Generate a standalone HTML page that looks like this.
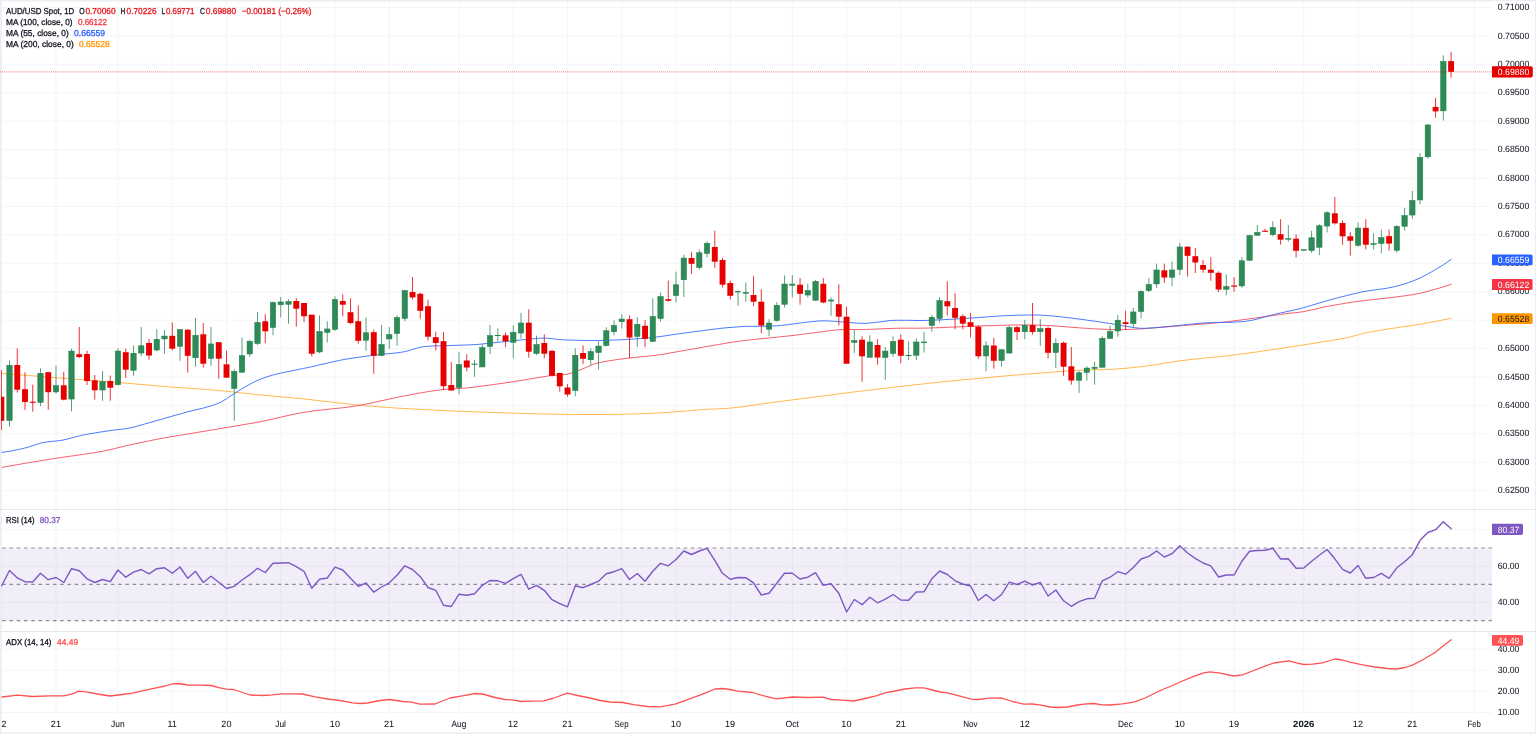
<!DOCTYPE html>
<html lang="en"><head><meta charset="utf-8"><title>AUD/USD Spot, 1D</title>
<style>html,body{margin:0;padding:0;background:#fff;overflow:hidden}svg{display:block;will-change:transform}text{font-family:"Liberation Sans",Arial,Helvetica,sans-serif;fill:#131722}.ax{font-size:9.05px}.lg{font-size:8.6px}.t text{stroke-width:.3px;text-rendering:geometricPrecision}.t .ax{stroke-width:.05px}</style></head><body>
<svg width="1536" height="734" viewBox="0 0 1536 734">
<rect x="0" y="0" width="1536" height="734" fill="#fff"/>
<g stroke="#f4f5f6" stroke-width="1" fill="none">
<line x1="1.75" y1="1" x2="1.75" y2="714.6"/>
<line x1="56.00" y1="1" x2="56.00" y2="714.6"/>
<line x1="118.00" y1="1" x2="118.00" y2="714.6"/>
<line x1="172.26" y1="1" x2="172.26" y2="714.6"/>
<line x1="226.51" y1="1" x2="226.51" y2="714.6"/>
<line x1="280.76" y1="1" x2="280.76" y2="714.6"/>
<line x1="335.02" y1="1" x2="335.02" y2="714.6"/>
<line x1="389.27" y1="1" x2="389.27" y2="714.6"/>
<line x1="459.03" y1="1" x2="459.03" y2="714.6"/>
<line x1="513.28" y1="1" x2="513.28" y2="714.6"/>
<line x1="567.53" y1="1" x2="567.53" y2="714.6"/>
<line x1="621.79" y1="1" x2="621.79" y2="714.6"/>
<line x1="676.04" y1="1" x2="676.04" y2="714.6"/>
<line x1="730.29" y1="1" x2="730.29" y2="714.6"/>
<line x1="792.30" y1="1" x2="792.30" y2="714.6"/>
<line x1="846.55" y1="1" x2="846.55" y2="714.6"/>
<line x1="900.80" y1="1" x2="900.80" y2="714.6"/>
<line x1="970.56" y1="1" x2="970.56" y2="714.6"/>
<line x1="1024.81" y1="1" x2="1024.81" y2="714.6"/>
<line x1="1125.57" y1="1" x2="1125.57" y2="714.6"/>
<line x1="1179.82" y1="1" x2="1179.82" y2="714.6"/>
<line x1="1234.08" y1="1" x2="1234.08" y2="714.6"/>
<line x1="1303.83" y1="1" x2="1303.83" y2="714.6"/>
<line x1="1358.08" y1="1" x2="1358.08" y2="714.6"/>
<line x1="1412.34" y1="1" x2="1412.34" y2="714.6"/>
<line x1="1474.34" y1="1" x2="1474.34" y2="714.6"/>
<line x1="1" y1="7.55" x2="1492.0" y2="7.55"/>
<line x1="1" y1="35.97" x2="1492.0" y2="35.97"/>
<line x1="1" y1="64.38" x2="1492.0" y2="64.38"/>
<line x1="1" y1="92.80" x2="1492.0" y2="92.80"/>
<line x1="1" y1="121.21" x2="1492.0" y2="121.21"/>
<line x1="1" y1="149.63" x2="1492.0" y2="149.63"/>
<line x1="1" y1="178.04" x2="1492.0" y2="178.04"/>
<line x1="1" y1="206.46" x2="1492.0" y2="206.46"/>
<line x1="1" y1="234.87" x2="1492.0" y2="234.87"/>
<line x1="1" y1="263.29" x2="1492.0" y2="263.29"/>
<line x1="1" y1="291.70" x2="1492.0" y2="291.70"/>
<line x1="1" y1="320.12" x2="1492.0" y2="320.12"/>
<line x1="1" y1="348.53" x2="1492.0" y2="348.53"/>
<line x1="1" y1="376.94" x2="1492.0" y2="376.94"/>
<line x1="1" y1="405.36" x2="1492.0" y2="405.36"/>
<line x1="1" y1="433.77" x2="1492.0" y2="433.77"/>
<line x1="1" y1="462.19" x2="1492.0" y2="462.19"/>
<line x1="1" y1="490.60" x2="1492.0" y2="490.60"/>
<line x1="1" y1="529.82" x2="1492.0" y2="529.82"/>
<line x1="1" y1="566.14" x2="1492.0" y2="566.14"/>
<line x1="1" y1="602.46" x2="1492.0" y2="602.46"/>
<line x1="1" y1="649.00" x2="1492.0" y2="649.00"/>
<line x1="1" y1="670.15" x2="1492.0" y2="670.15"/>
<line x1="1" y1="691.30" x2="1492.0" y2="691.30"/>
<line x1="1" y1="712.45" x2="1492.0" y2="712.45"/>
</g>
<rect x="0" y="547.98" width="1492.0" height="72.64" fill="#7e57c2" fill-opacity="0.1"/>
<g stroke="#888b95" stroke-width="1.2" stroke-dasharray="3.5 3.75" fill="none">
<line x1="2.2" y1="547.98" x2="1492.0" y2="547.98"/>
<line x1="2.2" y1="584.30" x2="1492.0" y2="584.30"/>
<line x1="2.2" y1="620.62" x2="1492.0" y2="620.62"/>
</g>
<polyline fill="none" stroke="#ff9800" stroke-width="1" stroke-linejoin="round" stroke-linecap="round" stroke-opacity=".7" points="0.0,373.3 3.9,373.6 7.8,373.9 11.6,374.2 15.5,374.5 19.4,374.8 23.3,375.1 27.1,375.4 31.0,375.7 34.9,376.0 38.8,376.3 42.6,376.6 46.5,376.9 50.4,377.2 54.3,377.6 58.1,377.9 62.0,378.2 65.9,378.5 69.8,378.8 73.6,379.1 77.5,379.4 81.4,379.7 85.3,380.0 89.1,380.3 93.0,380.6 96.9,380.9 100.8,381.2 104.7,381.5 108.5,381.8 112.4,382.1 116.3,382.4 120.2,382.7 124.0,383.0 127.9,383.3 131.8,383.6 135.7,384.0 139.5,384.3 143.4,384.6 147.3,385.0 151.2,385.3 155.0,385.7 158.9,386.0 162.8,386.4 166.7,386.7 170.5,387.0 174.4,387.3 178.3,387.6 182.2,387.8 186.0,388.1 189.9,388.3 193.8,388.6 197.7,388.9 201.6,389.1 205.4,389.4 209.3,389.7 213.2,390.0 217.1,390.3 220.9,390.7 224.8,391.1 228.7,391.5 232.6,391.9 236.4,392.4 240.3,392.8 244.2,393.2 248.1,393.7 251.9,394.1 255.8,394.5 259.7,394.9 263.6,395.2 267.4,395.6 271.3,395.9 275.2,396.3 279.1,396.6 282.9,397.0 286.8,397.4 290.7,397.7 294.6,398.1 298.5,398.4 302.3,398.8 306.2,399.2 310.1,399.6 314.0,400.1 317.8,400.5 321.7,401.0 325.6,401.4 329.5,401.9 333.3,402.3 337.2,402.8 341.1,403.2 345.0,403.6 348.8,404.1 352.7,404.5 356.6,404.9 360.5,405.2 364.3,405.6 368.2,406.0 372.1,406.3 376.0,406.6 379.8,406.9 383.7,407.2 387.6,407.5 391.5,407.7 395.4,408.0 399.2,408.2 403.1,408.4 407.0,408.7 410.9,408.9 414.7,409.1 418.6,409.3 422.5,409.5 426.4,409.7 430.2,409.9 434.1,410.1 438.0,410.3 441.9,410.5 445.7,410.7 449.6,410.8 453.5,411.0 457.4,411.2 461.2,411.3 465.1,411.5 469.0,411.6 472.9,411.8 476.7,411.9 480.6,412.1 484.5,412.2 488.4,412.3 492.3,412.5 496.1,412.6 500.0,412.7 503.9,412.9 507.8,413.0 511.6,413.1 515.5,413.2 519.4,413.3 523.3,413.5 527.1,413.6 531.0,413.7 534.9,413.8 538.8,413.9 542.6,413.9 546.5,414.0 550.4,414.1 554.3,414.2 558.1,414.3 562.0,414.3 565.9,414.4 569.8,414.4 573.6,414.5 577.5,414.5 581.4,414.5 585.3,414.5 589.2,414.5 593.0,414.5 596.9,414.5 600.8,414.5 604.7,414.5 608.5,414.4 612.4,414.4 616.3,414.3 620.2,414.3 624.0,414.2 627.9,414.1 631.8,414.0 635.7,413.9 639.5,413.8 643.4,413.6 647.3,413.5 651.2,413.3 655.0,413.1 658.9,412.9 662.8,412.7 666.7,412.4 670.5,412.2 674.4,411.9 678.3,411.6 682.2,411.3 686.1,411.0 689.9,410.7 693.8,410.3 697.7,410.0 701.6,409.7 705.4,409.4 709.3,409.2 713.2,409.1 717.1,408.9 720.9,408.7 724.8,408.5 728.7,408.2 732.6,407.9 736.4,407.4 740.3,407.0 744.2,406.5 748.1,405.9 751.9,405.4 755.8,404.9 759.7,404.3 763.6,403.8 767.4,403.2 771.3,402.7 775.2,402.1 779.1,401.6 783.0,401.1 786.8,400.6 790.7,400.1 794.6,399.6 798.5,399.1 802.3,398.6 806.2,398.1 810.1,397.6 814.0,397.1 817.8,396.6 821.7,396.1 825.6,395.6 829.5,395.1 833.3,394.6 837.2,394.1 841.1,393.6 845.0,393.1 848.8,392.6 852.7,392.1 856.6,391.7 860.5,391.2 864.3,390.7 868.2,390.3 872.1,389.8 876.0,389.3 879.9,388.9 883.7,388.4 887.6,388.0 891.5,387.5 895.4,387.1 899.2,386.6 903.1,386.2 907.0,385.7 910.9,385.3 914.7,384.8 918.6,384.4 922.5,384.0 926.4,383.6 930.2,383.1 934.1,382.7 938.0,382.3 941.9,381.9 945.7,381.5 949.6,381.1 953.5,380.8 957.4,380.4 961.2,380.0 965.1,379.6 969.0,379.3 972.9,378.9 976.8,378.5 980.6,378.2 984.5,377.8 988.4,377.5 992.3,377.1 996.1,376.8 1000.0,376.4 1003.9,376.1 1007.8,375.7 1011.6,375.4 1015.5,375.1 1019.4,374.7 1023.3,374.4 1027.1,374.1 1031.0,373.8 1034.9,373.5 1038.8,373.2 1042.6,372.9 1046.5,372.6 1050.4,372.3 1054.3,372.0 1058.1,371.7 1062.0,371.4 1065.9,371.1 1069.8,370.8 1073.7,370.6 1077.5,370.4 1081.4,370.1 1085.3,369.9 1089.2,369.8 1093.0,369.7 1096.9,369.7 1100.8,369.7 1104.7,369.5 1108.5,369.4 1112.4,369.2 1116.3,369.0 1120.2,368.7 1124.0,368.4 1127.9,368.1 1131.8,367.7 1135.7,367.3 1139.5,366.9 1143.4,366.4 1147.3,365.8 1151.2,365.3 1155.0,364.7 1158.9,364.1 1162.8,363.5 1166.7,362.8 1170.6,362.2 1174.4,361.7 1178.3,361.1 1182.2,360.6 1186.1,360.1 1189.9,359.6 1193.8,359.2 1197.7,358.8 1201.6,358.4 1205.4,358.0 1209.3,357.7 1213.2,357.3 1217.1,356.9 1220.9,356.5 1224.8,356.1 1228.7,355.7 1232.6,355.2 1236.4,354.7 1240.3,354.2 1244.2,353.7 1248.1,353.1 1251.9,352.6 1255.8,352.1 1259.7,351.5 1263.6,350.9 1267.5,350.4 1271.3,349.8 1275.2,349.2 1279.1,348.7 1283.0,348.1 1286.8,347.5 1290.7,346.9 1294.6,346.3 1298.5,345.7 1302.3,345.1 1306.2,344.5 1310.1,343.9 1314.0,343.2 1317.8,342.6 1321.7,342.0 1325.6,341.4 1329.5,340.8 1333.3,340.1 1337.2,339.5 1341.1,338.8 1345.0,338.1 1348.8,337.3 1352.7,336.3 1356.6,335.3 1360.5,334.2 1364.4,333.2 1368.2,332.4 1372.1,331.7 1376.0,331.0 1379.9,330.3 1383.7,329.7 1387.6,329.1 1391.5,328.5 1395.4,327.9 1399.2,327.3 1403.1,326.8 1407.0,326.2 1410.9,325.6 1414.7,325.0 1418.6,324.4 1422.5,323.8 1426.4,323.1 1430.2,322.4 1434.1,321.7 1438.0,321.0 1441.9,320.2 1445.7,319.4 1449.6,318.5 1451.1,318.2"/>
<polyline fill="none" stroke="#f23645" stroke-width="1" stroke-linejoin="round" stroke-linecap="round" stroke-opacity=".8" points="1.3,467.5 5.2,466.8 9.1,466.1 12.9,465.4 16.8,464.8 20.7,464.1 24.6,463.4 28.4,462.8 32.3,462.1 36.2,461.5 40.1,460.9 43.9,460.2 47.8,459.6 51.7,458.9 55.6,458.3 59.4,457.7 63.3,457.2 67.2,456.6 71.1,456.1 74.9,455.6 78.8,455.0 82.7,454.5 86.6,453.9 90.4,453.3 94.3,452.7 98.2,452.0 102.1,451.3 106.0,450.5 109.8,449.7 113.7,448.8 117.6,447.8 121.5,446.9 125.3,446.0 129.2,445.1 133.1,444.2 137.0,443.4 140.8,442.6 144.7,441.8 148.6,441.0 152.5,440.2 156.3,439.4 160.2,438.7 164.1,438.0 168.0,437.3 171.8,436.6 175.7,436.0 179.6,435.3 183.5,434.7 187.3,434.0 191.2,433.4 195.1,432.8 199.0,432.1 202.9,431.5 206.7,430.9 210.6,430.2 214.5,429.6 218.4,428.9 222.2,428.3 226.1,427.6 230.0,427.0 233.9,426.3 237.7,425.6 241.6,425.0 245.5,424.3 249.4,423.6 253.2,423.0 257.1,422.3 261.0,421.6 264.9,420.8 268.7,419.9 272.6,419.1 276.5,418.2 280.4,417.3 284.2,416.4 288.1,415.5 292.0,414.6 295.9,413.8 299.8,413.0 303.6,412.4 307.5,411.8 311.4,411.2 315.3,410.7 319.1,410.3 323.0,409.8 326.9,409.4 330.8,409.0 334.6,408.6 338.5,408.2 342.4,407.8 346.3,407.3 350.1,406.8 354.0,406.2 357.9,405.6 361.8,404.9 365.6,404.1 369.5,403.3 373.4,402.5 377.3,401.7 381.1,400.8 385.0,400.0 388.9,399.1 392.8,398.3 396.7,397.5 400.5,396.7 404.4,395.9 408.3,395.2 412.2,394.5 416.0,393.7 419.9,393.0 423.8,392.4 427.7,391.7 431.5,391.1 435.4,390.5 439.3,390.0 443.2,389.5 447.0,389.2 450.9,388.9 454.8,388.7 458.7,388.5 462.5,388.3 466.4,388.0 470.3,387.5 474.2,387.1 478.0,386.6 481.9,386.1 485.8,385.6 489.7,385.1 493.6,384.5 497.4,384.0 501.3,383.5 505.2,382.9 509.1,382.3 512.9,381.8 516.8,381.2 520.7,380.5 524.6,379.9 528.4,379.2 532.3,378.6 536.2,377.9 540.1,377.3 543.9,376.7 547.8,376.0 551.7,375.5 555.6,375.2 559.4,375.1 563.3,374.8 567.2,374.2 571.1,373.2 574.9,371.9 578.8,370.4 582.7,368.9 586.6,367.2 590.5,365.5 594.3,364.0 598.2,362.9 602.1,362.1 606.0,361.3 609.8,360.7 613.7,360.1 617.6,359.5 621.5,359.0 625.3,358.6 629.2,358.1 633.1,357.6 637.0,357.2 640.8,356.8 644.7,356.5 648.6,356.1 652.5,355.7 656.3,355.2 660.2,354.7 664.1,354.1 668.0,353.4 671.8,352.7 675.7,352.0 679.6,351.3 683.5,350.6 687.4,349.9 691.2,349.3 695.1,348.6 699.0,347.9 702.9,347.2 706.7,346.5 710.6,345.9 714.5,345.2 718.4,344.5 722.2,343.9 726.1,343.2 730.0,342.6 733.9,342.0 737.7,341.5 741.6,340.9 745.5,340.4 749.4,340.0 753.2,339.6 757.1,339.1 761.0,338.7 764.9,338.4 768.7,338.0 772.6,337.6 776.5,337.2 780.4,336.8 784.3,336.4 788.1,336.0 792.0,335.6 795.9,335.1 799.8,334.6 803.6,334.1 807.5,333.6 811.4,333.1 815.3,332.6 819.1,332.1 823.0,331.6 826.9,331.1 830.8,330.6 834.6,330.2 838.5,329.8 842.4,329.5 846.3,329.4 850.1,329.4 854.0,329.5 857.9,329.5 861.8,329.6 865.6,329.5 869.5,329.3 873.4,329.2 877.3,329.0 881.2,328.8 885.0,328.7 888.9,328.5 892.8,328.4 896.7,328.3 900.5,328.2 904.4,328.2 908.3,328.2 912.2,328.2 916.0,328.2 919.9,328.2 923.8,328.1 927.7,328.1 931.5,327.9 935.4,327.8 939.3,327.7 943.2,327.5 947.0,327.3 950.9,327.2 954.8,327.0 958.7,326.8 962.5,326.7 966.4,326.5 970.3,326.4 974.2,326.2 978.1,326.1 981.9,325.9 985.8,325.8 989.7,325.7 993.6,325.6 997.4,325.4 1001.3,325.3 1005.2,325.2 1009.1,325.1 1012.9,325.0 1016.8,324.9 1020.7,324.9 1024.6,324.9 1028.4,324.9 1032.3,325.0 1036.2,325.1 1040.1,325.2 1043.9,325.4 1047.8,325.6 1051.7,325.8 1055.6,326.0 1059.4,326.3 1063.3,326.6 1067.2,326.9 1071.1,327.2 1075.0,327.5 1078.8,327.8 1082.7,328.1 1086.6,328.3 1090.5,328.6 1094.3,328.8 1098.2,329.0 1102.1,329.2 1106.0,329.3 1109.8,329.5 1113.7,329.5 1117.6,329.6 1121.5,329.6 1125.3,329.5 1129.2,329.4 1133.1,329.3 1137.0,329.1 1140.8,328.9 1144.7,328.6 1148.6,328.3 1152.5,328.0 1156.3,327.7 1160.2,327.4 1164.1,327.1 1168.0,326.8 1171.9,326.5 1175.7,326.2 1179.6,325.9 1183.5,325.6 1187.4,325.2 1191.2,324.9 1195.1,324.6 1199.0,324.3 1202.9,324.0 1206.7,323.7 1210.6,323.4 1214.5,323.0 1218.4,322.7 1222.2,322.3 1226.1,321.9 1230.0,321.4 1233.9,320.9 1237.7,320.4 1241.6,319.9 1245.5,319.4 1249.4,318.8 1253.2,318.3 1257.1,317.8 1261.0,317.2 1264.9,316.7 1268.8,316.1 1272.6,315.6 1276.5,315.0 1280.4,314.5 1284.3,313.9 1288.1,313.4 1292.0,313.0 1295.9,312.7 1299.8,312.2 1303.6,311.6 1307.5,310.8 1311.4,310.0 1315.3,309.1 1319.1,308.2 1323.0,307.3 1326.9,306.5 1330.8,305.8 1334.6,305.1 1338.5,304.4 1342.4,303.8 1346.3,303.1 1350.1,302.5 1354.0,301.9 1357.9,301.4 1361.8,300.9 1365.7,300.4 1369.5,300.0 1373.4,299.5 1377.3,299.1 1381.2,298.7 1385.0,298.3 1388.9,297.8 1392.8,297.4 1396.7,296.9 1400.5,296.4 1404.4,295.9 1408.3,295.3 1412.2,294.7 1416.0,294.1 1419.9,293.3 1423.8,292.4 1427.7,291.4 1431.5,290.3 1435.4,289.2 1439.3,288.1 1443.2,286.9 1447.0,285.7 1450.9,284.4 1451.1,284.3"/>
<polyline fill="none" stroke="#2962ff" stroke-width="1" stroke-linejoin="round" stroke-linecap="round" stroke-opacity=".85" points="1.3,452.5 5.2,451.9 9.1,451.3 12.9,450.6 16.8,449.8 20.7,449.0 24.6,448.1 28.4,447.1 32.3,445.8 36.2,444.5 40.1,443.3 43.9,442.4 47.8,441.8 51.7,441.4 55.6,441.0 59.4,440.6 63.3,440.0 67.2,439.1 71.1,438.0 74.9,437.0 78.8,436.0 82.7,435.1 86.6,434.4 90.4,433.7 94.3,433.1 98.2,432.4 102.1,431.8 106.0,431.2 109.8,430.6 113.7,430.1 117.6,429.7 121.5,429.2 125.3,428.8 129.2,428.1 133.1,427.3 137.0,426.2 140.8,425.1 144.7,424.0 148.6,422.9 152.5,421.8 156.3,420.7 160.2,419.6 164.1,418.5 168.0,417.4 171.8,416.3 175.7,415.2 179.6,414.1 183.5,413.0 187.3,411.9 191.2,410.9 195.1,410.0 199.0,409.1 202.9,408.2 206.7,407.1 210.6,406.0 214.5,404.7 218.4,403.3 222.2,401.4 226.1,399.0 230.0,396.3 233.9,393.9 237.7,391.4 241.6,389.0 245.5,386.7 249.4,384.5 253.2,382.4 257.1,380.6 261.0,379.0 264.9,377.5 268.7,376.3 272.6,375.1 276.5,374.1 280.4,373.2 284.2,372.4 288.1,371.6 292.0,370.8 295.9,370.0 299.8,369.2 303.6,368.4 307.5,367.6 311.4,366.8 315.3,365.9 319.1,365.0 323.0,364.1 326.9,363.2 330.8,362.3 334.6,361.4 338.5,360.6 342.4,359.8 346.3,359.1 350.1,358.5 354.0,357.9 357.9,357.3 361.8,356.8 365.6,356.3 369.5,355.8 373.4,355.3 377.3,354.8 381.1,354.4 385.0,354.0 388.9,353.7 392.8,353.3 396.7,352.9 400.5,352.4 404.4,351.7 408.3,350.7 412.2,349.5 416.0,348.4 419.9,347.3 423.8,346.6 427.7,346.3 431.5,346.1 435.4,345.9 439.3,345.8 443.2,345.7 447.0,345.6 450.9,345.5 454.8,345.4 458.7,345.2 462.5,345.1 466.4,345.0 470.3,344.8 474.2,344.6 478.0,344.4 481.9,344.0 485.8,343.6 489.7,343.2 493.6,342.8 497.4,342.4 501.3,342.0 505.2,341.6 509.1,341.2 512.9,340.8 516.8,340.4 520.7,340.0 524.6,339.6 528.4,339.3 532.3,338.9 536.2,338.5 540.1,338.2 543.9,338.1 547.8,338.3 551.7,338.6 555.6,339.1 559.4,339.5 563.3,339.8 567.2,340.0 571.1,340.1 574.9,340.2 578.8,340.3 582.7,340.4 586.6,340.5 590.5,340.5 594.3,340.5 598.2,340.5 602.1,340.4 606.0,340.3 609.8,340.2 613.7,340.0 617.6,339.9 621.5,339.7 625.3,339.5 629.2,339.2 633.1,339.0 637.0,338.8 640.8,338.5 644.7,338.3 648.6,337.9 652.5,337.5 656.3,337.0 660.2,336.5 664.1,336.0 668.0,335.4 671.8,334.8 675.7,334.3 679.6,333.7 683.5,333.2 687.4,332.6 691.2,332.1 695.1,331.6 699.0,331.1 702.9,330.6 706.7,330.1 710.6,329.6 714.5,329.1 718.4,328.6 722.2,328.2 726.1,327.8 730.0,327.5 733.9,327.2 737.7,326.9 741.6,326.6 745.5,326.4 749.4,326.3 753.2,326.3 757.1,326.3 761.0,326.3 764.9,326.2 768.7,326.2 772.6,326.0 776.5,325.8 780.4,325.5 784.3,325.1 788.1,324.6 792.0,324.1 795.9,323.6 799.8,323.1 803.6,322.6 807.5,322.1 811.4,321.7 815.3,321.3 819.1,320.9 823.0,320.8 826.9,320.9 830.8,321.1 834.6,321.3 838.5,321.6 842.4,321.9 846.3,322.2 850.1,322.6 854.0,322.9 857.9,323.2 861.8,323.3 865.6,323.3 869.5,323.0 873.4,322.6 877.3,322.2 881.2,321.7 885.0,321.2 888.9,320.7 892.8,320.4 896.7,320.3 900.5,320.3 904.4,320.3 908.3,320.3 912.2,320.4 916.0,320.5 919.9,320.5 923.8,320.5 927.7,320.4 931.5,320.2 935.4,320.0 939.3,319.9 943.2,319.7 947.0,319.5 950.9,319.2 954.8,319.0 958.7,318.8 962.5,318.6 966.4,318.3 970.3,318.1 974.2,317.8 978.1,317.6 981.9,317.3 985.8,317.0 989.7,316.7 993.6,316.4 997.4,316.2 1001.3,315.9 1005.2,315.7 1009.1,315.5 1012.9,315.4 1016.8,315.2 1020.7,315.1 1024.6,315.1 1028.4,315.0 1032.3,315.0 1036.2,315.0 1040.1,315.1 1043.9,315.3 1047.8,315.6 1051.7,315.9 1055.6,316.3 1059.4,316.7 1063.3,317.1 1067.2,317.6 1071.1,318.0 1075.0,318.5 1078.8,319.0 1082.7,319.5 1086.6,320.1 1090.5,320.6 1094.3,321.2 1098.2,321.7 1102.1,322.3 1106.0,322.9 1109.8,323.5 1113.7,324.2 1117.6,324.9 1121.5,325.6 1125.3,326.2 1129.2,326.8 1133.1,327.5 1137.0,328.0 1140.8,328.3 1144.7,328.3 1148.6,328.1 1152.5,327.9 1156.3,327.6 1160.2,327.2 1164.1,326.9 1168.0,326.5 1171.9,326.1 1175.7,325.7 1179.6,325.4 1183.5,324.9 1187.4,324.5 1191.2,324.1 1195.1,323.8 1199.0,323.4 1202.9,323.0 1206.7,322.8 1210.6,322.6 1214.5,322.5 1218.4,322.4 1222.2,322.4 1226.1,322.3 1230.0,322.3 1233.9,322.1 1237.7,321.9 1241.6,321.7 1245.5,321.3 1249.4,320.7 1253.2,320.0 1257.1,319.1 1261.0,318.0 1264.9,316.9 1268.8,315.8 1272.6,314.8 1276.5,313.8 1280.4,313.0 1284.3,312.2 1288.1,311.3 1292.0,310.5 1295.9,309.6 1299.8,308.7 1303.6,307.6 1307.5,306.5 1311.4,305.4 1315.3,304.2 1319.1,303.1 1323.0,301.9 1326.9,300.8 1330.8,299.7 1334.6,298.6 1338.5,297.6 1342.4,296.6 1346.3,295.7 1350.1,294.7 1354.0,293.8 1357.9,292.9 1361.8,292.0 1365.7,291.3 1369.5,290.6 1373.4,290.1 1377.3,289.6 1381.2,289.1 1385.0,288.5 1388.9,287.8 1392.8,287.0 1396.7,286.1 1400.5,285.1 1404.4,284.0 1408.3,282.7 1412.2,281.3 1416.0,279.7 1419.9,278.0 1423.8,276.1 1427.7,274.0 1431.5,271.9 1435.4,269.6 1439.3,267.3 1443.2,264.9 1447.0,262.3 1450.9,259.6 1451.1,259.5"/>
<rect x="0" y="0" width="1536" height="1.5" fill="#ebeef4"/>
<rect x="0" y="0" width="1.55" height="734" fill="#ebeef4"/>
<rect x="1534.6" y="0" width="1.4" height="734" fill="#ebeef4"/>
<rect x="0" y="732.2" width="1536" height="1.8" fill="#ebeef4"/>
<clipPath id="cp"><rect x="1" y="1.5" width="1491" height="507.5"/></clipPath>
<g clip-path="url(#cp)"><g stroke-width="1" stroke-opacity=".8"><line x1="1.35" y1="370.0" x2="1.35" y2="430.0" stroke="#e60000"/><line x1="9.50" y1="360.3" x2="9.50" y2="426.7" stroke="#2e8b57"/><line x1="17.25" y1="348.3" x2="17.25" y2="392.5" stroke="#e60000"/><line x1="25.00" y1="372.2" x2="25.00" y2="410.0" stroke="#e60000"/><line x1="32.75" y1="384.7" x2="32.75" y2="411.7" stroke="#e60000"/><line x1="40.50" y1="368.3" x2="40.50" y2="406.0" stroke="#2e8b57"/><line x1="48.25" y1="371.7" x2="48.25" y2="409.7" stroke="#e60000"/><line x1="56.00" y1="365.8" x2="56.00" y2="393.8" stroke="#2e8b57"/><line x1="63.75" y1="371.7" x2="63.75" y2="400.5" stroke="#e60000"/><line x1="71.50" y1="348.8" x2="71.50" y2="411.3" stroke="#2e8b57"/><line x1="79.25" y1="327.0" x2="79.25" y2="358.0" stroke="#e60000"/><line x1="87.00" y1="350.7" x2="87.00" y2="385.0" stroke="#e60000"/><line x1="94.75" y1="375.0" x2="94.75" y2="399.7" stroke="#e60000"/><line x1="102.50" y1="371.0" x2="102.50" y2="400.8" stroke="#2e8b57"/><line x1="110.25" y1="375.5" x2="110.25" y2="400.8" stroke="#e60000"/><line x1="118.00" y1="348.3" x2="118.00" y2="385.5" stroke="#2e8b57"/><line x1="125.75" y1="348.8" x2="125.75" y2="377.8" stroke="#e60000"/><line x1="133.50" y1="345.5" x2="133.50" y2="375.8" stroke="#2e8b57"/><line x1="141.26" y1="327.0" x2="141.26" y2="356.2" stroke="#2e8b57"/><line x1="149.01" y1="338.8" x2="149.01" y2="359.7" stroke="#e60000"/><line x1="156.76" y1="329.2" x2="156.76" y2="351.3" stroke="#2e8b57"/><line x1="164.51" y1="330.0" x2="164.51" y2="353.7" stroke="#2e8b57"/><line x1="172.26" y1="322.5" x2="172.26" y2="350.3" stroke="#e60000"/><line x1="180.01" y1="329.2" x2="180.01" y2="360.8" stroke="#2e8b57"/><line x1="187.76" y1="329.2" x2="187.76" y2="372.7" stroke="#e60000"/><line x1="195.51" y1="318.0" x2="195.51" y2="366.7" stroke="#2e8b57"/><line x1="203.26" y1="323.0" x2="203.26" y2="367.5" stroke="#e60000"/><line x1="211.01" y1="327.0" x2="211.01" y2="365.8" stroke="#2e8b57"/><line x1="218.76" y1="342.2" x2="218.76" y2="378.7" stroke="#e60000"/><line x1="226.51" y1="350.8" x2="226.51" y2="377.7" stroke="#e60000"/><line x1="234.26" y1="369.3" x2="234.26" y2="420.7" stroke="#2e8b57"/><line x1="242.01" y1="337.5" x2="242.01" y2="372.5" stroke="#2e8b57"/><line x1="249.76" y1="339.7" x2="249.76" y2="356.7" stroke="#2e8b57"/><line x1="257.51" y1="312.0" x2="257.51" y2="345.0" stroke="#2e8b57"/><line x1="265.26" y1="314.2" x2="265.26" y2="343.3" stroke="#e60000"/><line x1="273.01" y1="301.7" x2="273.01" y2="335.3" stroke="#2e8b57"/><line x1="280.76" y1="297.0" x2="280.76" y2="317.5" stroke="#2e8b57"/><line x1="288.51" y1="299.2" x2="288.51" y2="323.7" stroke="#2e8b57"/><line x1="296.27" y1="298.0" x2="296.27" y2="326.7" stroke="#e60000"/><line x1="304.02" y1="303.0" x2="304.02" y2="322.2" stroke="#e60000"/><line x1="311.77" y1="314.7" x2="311.77" y2="356.3" stroke="#e60000"/><line x1="319.52" y1="315.3" x2="319.52" y2="353.3" stroke="#2e8b57"/><line x1="327.27" y1="321.3" x2="327.27" y2="342.5" stroke="#2e8b57"/><line x1="335.02" y1="296.3" x2="335.02" y2="331.0" stroke="#2e8b57"/><line x1="342.77" y1="294.3" x2="342.77" y2="316.3" stroke="#e60000"/><line x1="350.52" y1="298.3" x2="350.52" y2="324.3" stroke="#e60000"/><line x1="358.27" y1="305.3" x2="358.27" y2="343.7" stroke="#e60000"/><line x1="366.02" y1="317.3" x2="366.02" y2="350.8" stroke="#2e8b57"/><line x1="373.77" y1="329.7" x2="373.77" y2="373.8" stroke="#e60000"/><line x1="381.52" y1="325.0" x2="381.52" y2="356.3" stroke="#2e8b57"/><line x1="389.27" y1="327.2" x2="389.27" y2="348.8" stroke="#2e8b57"/><line x1="397.02" y1="315.3" x2="397.02" y2="345.8" stroke="#2e8b57"/><line x1="404.77" y1="290.0" x2="404.77" y2="321.3" stroke="#2e8b57"/><line x1="412.52" y1="277.0" x2="412.52" y2="299.6" stroke="#e60000"/><line x1="420.27" y1="292.5" x2="420.27" y2="318.7" stroke="#e60000"/><line x1="428.02" y1="299.7" x2="428.02" y2="340.5" stroke="#e60000"/><line x1="435.77" y1="331.7" x2="435.77" y2="350.3" stroke="#e60000"/><line x1="443.52" y1="332.0" x2="443.52" y2="390.0" stroke="#e60000"/><line x1="451.28" y1="362.0" x2="451.28" y2="390.5" stroke="#e60000"/><line x1="459.03" y1="352.0" x2="459.03" y2="394.2" stroke="#2e8b57"/><line x1="466.78" y1="354.2" x2="466.78" y2="371.3" stroke="#e60000"/><line x1="474.53" y1="360.0" x2="474.53" y2="376.7" stroke="#2e8b57"/><line x1="482.28" y1="344.2" x2="482.28" y2="367.2" stroke="#2e8b57"/><line x1="490.03" y1="325.0" x2="490.03" y2="354.2" stroke="#2e8b57"/><line x1="497.78" y1="328.3" x2="497.78" y2="341.7" stroke="#2e8b57"/><line x1="505.53" y1="332.5" x2="505.53" y2="347.2" stroke="#e60000"/><line x1="513.28" y1="325.3" x2="513.28" y2="358.3" stroke="#2e8b57"/><line x1="521.03" y1="312.8" x2="521.03" y2="338.7" stroke="#2e8b57"/><line x1="528.78" y1="309.3" x2="528.78" y2="357.7" stroke="#e60000"/><line x1="536.53" y1="335.7" x2="536.53" y2="355.0" stroke="#2e8b57"/><line x1="544.28" y1="334.2" x2="544.28" y2="358.3" stroke="#e60000"/><line x1="552.03" y1="350.0" x2="552.03" y2="376.7" stroke="#e60000"/><line x1="559.78" y1="372.5" x2="559.78" y2="391.7" stroke="#e60000"/><line x1="567.53" y1="384.2" x2="567.53" y2="396.7" stroke="#e60000"/><line x1="575.28" y1="348.3" x2="575.28" y2="396.2" stroke="#2e8b57"/><line x1="583.03" y1="345.5" x2="583.03" y2="364.2" stroke="#e60000"/><line x1="590.78" y1="348.3" x2="590.78" y2="365.0" stroke="#2e8b57"/><line x1="598.53" y1="341.2" x2="598.53" y2="369.5" stroke="#2e8b57"/><line x1="606.29" y1="327.3" x2="606.29" y2="346.7" stroke="#2e8b57"/><line x1="614.04" y1="320.5" x2="614.04" y2="335.3" stroke="#2e8b57"/><line x1="621.79" y1="314.2" x2="621.79" y2="328.3" stroke="#2e8b57"/><line x1="629.54" y1="315.3" x2="629.54" y2="358.0" stroke="#e60000"/><line x1="637.29" y1="317.2" x2="637.29" y2="347.2" stroke="#2e8b57"/><line x1="645.04" y1="320.0" x2="645.04" y2="347.2" stroke="#e60000"/><line x1="652.79" y1="298.3" x2="652.79" y2="341.7" stroke="#2e8b57"/><line x1="660.54" y1="292.5" x2="660.54" y2="321.7" stroke="#2e8b57"/><line x1="668.29" y1="280.5" x2="668.29" y2="301.7" stroke="#e60000"/><line x1="676.04" y1="271.7" x2="676.04" y2="302.5" stroke="#2e8b57"/><line x1="683.79" y1="254.7" x2="683.79" y2="297.0" stroke="#2e8b57"/><line x1="691.54" y1="252.2" x2="691.54" y2="273.8" stroke="#e60000"/><line x1="699.29" y1="249.5" x2="699.29" y2="269.7" stroke="#2e8b57"/><line x1="707.04" y1="241.3" x2="707.04" y2="257.5" stroke="#2e8b57"/><line x1="714.79" y1="230.8" x2="714.79" y2="267.8" stroke="#e60000"/><line x1="722.54" y1="257.8" x2="722.54" y2="287.5" stroke="#e60000"/><line x1="730.29" y1="280.5" x2="730.29" y2="299.5" stroke="#e60000"/><line x1="738.04" y1="290.3" x2="738.04" y2="305.8" stroke="#2e8b57"/><line x1="745.79" y1="282.5" x2="745.79" y2="301.7" stroke="#2e8b57"/><line x1="753.54" y1="276.2" x2="753.54" y2="305.8" stroke="#e60000"/><line x1="761.30" y1="289.2" x2="761.30" y2="333.3" stroke="#e60000"/><line x1="769.05" y1="319.2" x2="769.05" y2="336.3" stroke="#2e8b57"/><line x1="776.80" y1="302.2" x2="776.80" y2="321.7" stroke="#2e8b57"/><line x1="784.55" y1="275.3" x2="784.55" y2="307.5" stroke="#2e8b57"/><line x1="792.30" y1="275.0" x2="792.30" y2="297.5" stroke="#2e8b57"/><line x1="800.05" y1="278.0" x2="800.05" y2="304.7" stroke="#e60000"/><line x1="807.80" y1="283.8" x2="807.80" y2="297.5" stroke="#2e8b57"/><line x1="815.55" y1="280.0" x2="815.55" y2="300.5" stroke="#2e8b57"/><line x1="823.30" y1="278.0" x2="823.30" y2="303.3" stroke="#e60000"/><line x1="831.05" y1="297.5" x2="831.05" y2="315.8" stroke="#2e8b57"/><line x1="838.80" y1="284.3" x2="838.80" y2="325.5" stroke="#e60000"/><line x1="846.55" y1="306.7" x2="846.55" y2="363.7" stroke="#e60000"/><line x1="854.30" y1="330.0" x2="854.30" y2="353.0" stroke="#2e8b57"/><line x1="862.05" y1="336.3" x2="862.05" y2="381.7" stroke="#e60000"/><line x1="869.80" y1="335.3" x2="869.80" y2="357.5" stroke="#2e8b57"/><line x1="877.55" y1="339.2" x2="877.55" y2="364.7" stroke="#e60000"/><line x1="885.30" y1="347.0" x2="885.30" y2="379.7" stroke="#2e8b57"/><line x1="893.05" y1="336.3" x2="893.05" y2="356.7" stroke="#2e8b57"/><line x1="900.80" y1="334.2" x2="900.80" y2="363.3" stroke="#e60000"/><line x1="908.55" y1="341.3" x2="908.55" y2="360.0" stroke="#2e8b57"/><line x1="916.31" y1="338.3" x2="916.31" y2="360.0" stroke="#2e8b57"/><line x1="924.06" y1="332.0" x2="924.06" y2="352.5" stroke="#2e8b57"/><line x1="931.81" y1="315.0" x2="931.81" y2="331.7" stroke="#2e8b57"/><line x1="939.56" y1="297.0" x2="939.56" y2="322.5" stroke="#2e8b57"/><line x1="947.31" y1="281.2" x2="947.31" y2="315.5" stroke="#e60000"/><line x1="955.06" y1="293.0" x2="955.06" y2="329.2" stroke="#e60000"/><line x1="962.81" y1="314.2" x2="962.81" y2="329.2" stroke="#e60000"/><line x1="970.56" y1="313.0" x2="970.56" y2="337.5" stroke="#e60000"/><line x1="978.31" y1="325.3" x2="978.31" y2="358.8" stroke="#e60000"/><line x1="986.06" y1="341.2" x2="986.06" y2="371.3" stroke="#2e8b57"/><line x1="993.81" y1="337.7" x2="993.81" y2="368.7" stroke="#e60000"/><line x1="1001.56" y1="349.5" x2="1001.56" y2="366.7" stroke="#2e8b57"/><line x1="1009.31" y1="325.8" x2="1009.31" y2="353.3" stroke="#2e8b57"/><line x1="1017.06" y1="325.8" x2="1017.06" y2="340.0" stroke="#e60000"/><line x1="1024.81" y1="320.0" x2="1024.81" y2="339.2" stroke="#2e8b57"/><line x1="1032.56" y1="303.0" x2="1032.56" y2="334.7" stroke="#e60000"/><line x1="1040.31" y1="319.2" x2="1040.31" y2="345.8" stroke="#2e8b57"/><line x1="1048.06" y1="326.7" x2="1048.06" y2="358.3" stroke="#e60000"/><line x1="1055.81" y1="338.3" x2="1055.81" y2="368.0" stroke="#2e8b57"/><line x1="1063.57" y1="341.7" x2="1063.57" y2="375.8" stroke="#e60000"/><line x1="1071.32" y1="347.0" x2="1071.32" y2="384.7" stroke="#e60000"/><line x1="1079.07" y1="370.8" x2="1079.07" y2="393.0" stroke="#2e8b57"/><line x1="1086.82" y1="366.3" x2="1086.82" y2="380.8" stroke="#2e8b57"/><line x1="1094.57" y1="361.7" x2="1094.57" y2="384.7" stroke="#2e8b57"/><line x1="1102.32" y1="336.3" x2="1102.32" y2="367.5" stroke="#2e8b57"/><line x1="1110.07" y1="325.8" x2="1110.07" y2="338.7" stroke="#2e8b57"/><line x1="1117.82" y1="315.0" x2="1117.82" y2="336.7" stroke="#2e8b57"/><line x1="1125.57" y1="310.8" x2="1125.57" y2="330.0" stroke="#e60000"/><line x1="1133.32" y1="308.0" x2="1133.32" y2="327.5" stroke="#2e8b57"/><line x1="1141.07" y1="290.3" x2="1141.07" y2="318.3" stroke="#2e8b57"/><line x1="1148.82" y1="278.3" x2="1148.82" y2="292.0" stroke="#2e8b57"/><line x1="1156.57" y1="263.7" x2="1156.57" y2="288.0" stroke="#2e8b57"/><line x1="1164.32" y1="263.7" x2="1164.32" y2="282.8" stroke="#e60000"/><line x1="1172.07" y1="261.3" x2="1172.07" y2="286.2" stroke="#2e8b57"/><line x1="1179.82" y1="242.8" x2="1179.82" y2="275.0" stroke="#2e8b57"/><line x1="1187.57" y1="246.2" x2="1187.57" y2="276.7" stroke="#e60000"/><line x1="1195.32" y1="248.0" x2="1195.32" y2="273.0" stroke="#e60000"/><line x1="1203.07" y1="260.0" x2="1203.07" y2="272.8" stroke="#e60000"/><line x1="1210.82" y1="257.2" x2="1210.82" y2="280.8" stroke="#e60000"/><line x1="1218.58" y1="271.3" x2="1218.58" y2="292.0" stroke="#e60000"/><line x1="1226.33" y1="274.3" x2="1226.33" y2="295.3" stroke="#2e8b57"/><line x1="1234.08" y1="277.2" x2="1234.08" y2="291.7" stroke="#e60000"/><line x1="1241.83" y1="257.2" x2="1241.83" y2="287.8" stroke="#2e8b57"/><line x1="1249.58" y1="234.7" x2="1249.58" y2="260.5" stroke="#2e8b57"/><line x1="1257.33" y1="225.0" x2="1257.33" y2="235.8" stroke="#2e8b57"/><line x1="1265.08" y1="228.7" x2="1265.08" y2="232.0" stroke="#e60000"/><line x1="1272.83" y1="221.2" x2="1272.83" y2="236.3" stroke="#2e8b57"/><line x1="1280.58" y1="219.2" x2="1280.58" y2="244.5" stroke="#e60000"/><line x1="1288.33" y1="225.0" x2="1288.33" y2="241.7" stroke="#2e8b57"/><line x1="1296.08" y1="234.2" x2="1296.08" y2="257.5" stroke="#e60000"/><line x1="1303.83" y1="249.3" x2="1303.83" y2="250.5" stroke="#2e8b57"/><line x1="1311.58" y1="230.8" x2="1311.58" y2="252.8" stroke="#2e8b57"/><line x1="1319.33" y1="224.2" x2="1319.33" y2="255.3" stroke="#2e8b57"/><line x1="1327.08" y1="211.2" x2="1327.08" y2="232.5" stroke="#2e8b57"/><line x1="1334.83" y1="197.0" x2="1334.83" y2="224.5" stroke="#e60000"/><line x1="1342.58" y1="220.3" x2="1342.58" y2="244.7" stroke="#e60000"/><line x1="1350.33" y1="232.2" x2="1350.33" y2="255.5" stroke="#e60000"/><line x1="1358.08" y1="222.5" x2="1358.08" y2="246.7" stroke="#2e8b57"/><line x1="1365.83" y1="219.2" x2="1365.83" y2="249.5" stroke="#e60000"/><line x1="1373.59" y1="233.3" x2="1373.59" y2="249.5" stroke="#2e8b57"/><line x1="1381.34" y1="229.7" x2="1381.34" y2="253.3" stroke="#2e8b57"/><line x1="1389.09" y1="229.5" x2="1389.09" y2="250.6" stroke="#e60000"/><line x1="1396.84" y1="225.1" x2="1396.84" y2="252.7" stroke="#2e8b57"/><line x1="1404.59" y1="207.8" x2="1404.59" y2="230.6" stroke="#2e8b57"/><line x1="1412.34" y1="191.0" x2="1412.34" y2="218.7" stroke="#2e8b57"/><line x1="1420.09" y1="153.0" x2="1420.09" y2="204.4" stroke="#2e8b57"/><line x1="1427.84" y1="123.9" x2="1427.84" y2="158.3" stroke="#2e8b57"/><line x1="1435.59" y1="97.8" x2="1435.59" y2="117.7" stroke="#e60000"/><line x1="1443.34" y1="55.3" x2="1443.34" y2="120.6" stroke="#2e8b57"/><line x1="1451.09" y1="51.8" x2="1451.09" y2="77.7" stroke="#e60000"/></g>
<g><rect x="-1.60" y="396.7" width="5.9" height="24.1" fill="#e60000"/><rect x="6.80" y="365.25" width="5.4" height="55.30" fill="#2e8b57" stroke="#1f7d4b" stroke-width=".5"/><rect x="14.30" y="365.0" width="5.9" height="24.7" fill="#e60000"/><rect x="22.05" y="389.2" width="5.9" height="12.8" fill="#e60000"/><rect x="29.80" y="401.7" width="5.9" height="1.1" fill="#e60000"/><rect x="37.80" y="373.25" width="5.4" height="29.20" fill="#2e8b57" stroke="#1f7d4b" stroke-width=".5"/><rect x="45.30" y="372.2" width="5.9" height="20.0" fill="#e60000"/><rect x="53.30" y="385.55" width="5.4" height="6.40" fill="#2e8b57" stroke="#1f7d4b" stroke-width=".5"/><rect x="60.80" y="385.3" width="5.9" height="14.4" fill="#e60000"/><rect x="68.80" y="351.05" width="5.4" height="48.00" fill="#2e8b57" stroke="#1f7d4b" stroke-width=".5"/><rect x="76.30" y="354.2" width="5.9" height="2.8" fill="#e60000"/><rect x="84.05" y="354.0" width="5.9" height="27.0" fill="#e60000"/><rect x="91.80" y="380.3" width="5.9" height="10.0" fill="#e60000"/><rect x="99.80" y="381.55" width="5.4" height="8.50" fill="#2e8b57" stroke="#1f7d4b" stroke-width=".5"/><rect x="107.30" y="381.0" width="5.9" height="6.7" fill="#e60000"/><rect x="115.30" y="351.05" width="5.4" height="33.70" fill="#2e8b57" stroke="#1f7d4b" stroke-width=".5"/><rect x="122.80" y="352.2" width="5.9" height="17.5" fill="#e60000"/><rect x="130.81" y="353.25" width="5.4" height="17.00" fill="#2e8b57" stroke="#1f7d4b" stroke-width=".5"/><rect x="138.56" y="345.75" width="5.4" height="7.30" fill="#2e8b57" stroke="#1f7d4b" stroke-width=".5"/><rect x="146.06" y="343.0" width="5.9" height="12.5" fill="#e60000"/><rect x="154.06" y="339.25" width="5.4" height="10.80" fill="#2e8b57" stroke="#1f7d4b" stroke-width=".5"/><rect x="161.81" y="336.05" width="5.4" height="2.90" fill="#2e8b57" stroke="#1f7d4b" stroke-width=".5"/><rect x="169.31" y="335.8" width="5.9" height="12.9" fill="#e60000"/><rect x="177.31" y="329.45" width="5.4" height="17.00" fill="#2e8b57" stroke="#1f7d4b" stroke-width=".5"/><rect x="184.81" y="329.7" width="5.9" height="26.1" fill="#e60000"/><rect x="192.81" y="335.25" width="5.4" height="22.50" fill="#2e8b57" stroke="#1f7d4b" stroke-width=".5"/><rect x="200.31" y="334.3" width="5.9" height="29.4" fill="#e60000"/><rect x="208.31" y="343.95" width="5.4" height="14.50" fill="#2e8b57" stroke="#1f7d4b" stroke-width=".5"/><rect x="215.81" y="342.2" width="5.9" height="16.5" fill="#e60000"/><rect x="223.56" y="364.3" width="5.9" height="13.4" fill="#e60000"/><rect x="231.56" y="371.25" width="5.4" height="17.20" fill="#2e8b57" stroke="#1f7d4b" stroke-width=".5"/><rect x="239.31" y="355.55" width="5.4" height="16.70" fill="#2e8b57" stroke="#1f7d4b" stroke-width=".5"/><rect x="247.06" y="341.25" width="5.4" height="12.70" fill="#2e8b57" stroke="#1f7d4b" stroke-width=".5"/><rect x="254.81" y="322.45" width="5.4" height="21.10" fill="#2e8b57" stroke="#1f7d4b" stroke-width=".5"/><rect x="262.31" y="321.3" width="5.9" height="10.0" fill="#e60000"/><rect x="270.31" y="302.45" width="5.4" height="25.10" fill="#2e8b57" stroke="#1f7d4b" stroke-width=".5"/><rect x="278.06" y="301.95" width="5.4" height="2.80" fill="#2e8b57" stroke="#1f7d4b" stroke-width=".5"/><rect x="285.81" y="301.55" width="5.4" height="2.70" fill="#2e8b57" stroke="#1f7d4b" stroke-width=".5"/><rect x="293.32" y="301.0" width="5.9" height="7.7" fill="#e60000"/><rect x="301.07" y="303.0" width="5.9" height="13.2" fill="#e60000"/><rect x="308.82" y="314.7" width="5.9" height="39.0" fill="#e60000"/><rect x="316.82" y="331.45" width="5.4" height="20.50" fill="#2e8b57" stroke="#1f7d4b" stroke-width=".5"/><rect x="324.57" y="328.95" width="5.4" height="3.50" fill="#2e8b57" stroke="#1f7d4b" stroke-width=".5"/><rect x="332.32" y="299.45" width="5.4" height="30.00" fill="#2e8b57" stroke="#1f7d4b" stroke-width=".5"/><rect x="339.82" y="301.0" width="5.9" height="3.7" fill="#e60000"/><rect x="347.57" y="312.2" width="5.9" height="10.8" fill="#e60000"/><rect x="355.32" y="321.2" width="5.9" height="19.6" fill="#e60000"/><rect x="363.32" y="332.75" width="5.4" height="7.50" fill="#2e8b57" stroke="#1f7d4b" stroke-width=".5"/><rect x="370.82" y="332.2" width="5.9" height="23.6" fill="#e60000"/><rect x="378.82" y="344.45" width="5.4" height="11.10" fill="#2e8b57" stroke="#1f7d4b" stroke-width=".5"/><rect x="386.57" y="334.55" width="5.4" height="4.40" fill="#2e8b57" stroke="#1f7d4b" stroke-width=".5"/><rect x="394.32" y="317.55" width="5.4" height="16.00" fill="#2e8b57" stroke="#1f7d4b" stroke-width=".5"/><rect x="402.07" y="290.55" width="5.4" height="28.00" fill="#2e8b57" stroke="#1f7d4b" stroke-width=".5"/><rect x="409.57" y="292.0" width="5.9" height="5.4" fill="#e60000"/><rect x="417.32" y="293.8" width="5.9" height="17.0" fill="#e60000"/><rect x="425.07" y="306.2" width="5.9" height="30.5" fill="#e60000"/><rect x="432.82" y="337.2" width="5.9" height="5.8" fill="#e60000"/><rect x="440.57" y="341.2" width="5.9" height="45.0" fill="#e60000"/><rect x="448.33" y="385.0" width="5.9" height="5.5" fill="#e60000"/><rect x="456.33" y="364.45" width="5.4" height="23.10" fill="#2e8b57" stroke="#1f7d4b" stroke-width=".5"/><rect x="463.83" y="360.5" width="5.9" height="7.0" fill="#e60000"/><rect x="471.83" y="363.95" width="5.4" height="0.50" fill="#2e8b57" stroke="#1f7d4b" stroke-width=".5"/><rect x="479.58" y="347.45" width="5.4" height="19.50" fill="#2e8b57" stroke="#1f7d4b" stroke-width=".5"/><rect x="487.33" y="335.55" width="5.4" height="10.90" fill="#2e8b57" stroke="#1f7d4b" stroke-width=".5"/><rect x="495.08" y="335.25" width="5.4" height="0.50" fill="#2e8b57" stroke="#1f7d4b" stroke-width=".5"/><rect x="502.58" y="335.3" width="5.9" height="6.0" fill="#e60000"/><rect x="510.58" y="332.25" width="5.4" height="10.00" fill="#2e8b57" stroke="#1f7d4b" stroke-width=".5"/><rect x="518.33" y="322.95" width="5.4" height="10.10" fill="#2e8b57" stroke="#1f7d4b" stroke-width=".5"/><rect x="525.83" y="322.7" width="5.9" height="29.0" fill="#e60000"/><rect x="533.83" y="344.45" width="5.4" height="9.10" fill="#2e8b57" stroke="#1f7d4b" stroke-width=".5"/><rect x="541.33" y="343.0" width="5.9" height="10.7" fill="#e60000"/><rect x="549.08" y="350.8" width="5.9" height="25.0" fill="#e60000"/><rect x="556.83" y="373.0" width="5.9" height="13.3" fill="#e60000"/><rect x="564.58" y="387.5" width="5.9" height="7.0" fill="#e60000"/><rect x="572.58" y="355.25" width="5.4" height="35.30" fill="#2e8b57" stroke="#1f7d4b" stroke-width=".5"/><rect x="580.08" y="353.0" width="5.9" height="5.8" fill="#e60000"/><rect x="588.08" y="351.55" width="5.4" height="8.20" fill="#2e8b57" stroke="#1f7d4b" stroke-width=".5"/><rect x="595.83" y="346.05" width="5.4" height="6.50" fill="#2e8b57" stroke="#1f7d4b" stroke-width=".5"/><rect x="603.59" y="330.75" width="5.4" height="14.80" fill="#2e8b57" stroke="#1f7d4b" stroke-width=".5"/><rect x="611.34" y="325.45" width="5.4" height="6.30" fill="#2e8b57" stroke="#1f7d4b" stroke-width=".5"/><rect x="619.09" y="319.05" width="5.4" height="2.70" fill="#2e8b57" stroke="#1f7d4b" stroke-width=".5"/><rect x="626.59" y="319.2" width="5.9" height="18.3" fill="#e60000"/><rect x="634.59" y="324.25" width="5.4" height="12.20" fill="#2e8b57" stroke="#1f7d4b" stroke-width=".5"/><rect x="642.09" y="325.8" width="5.9" height="13.0" fill="#e60000"/><rect x="650.09" y="316.45" width="5.4" height="25.00" fill="#2e8b57" stroke="#1f7d4b" stroke-width=".5"/><rect x="657.84" y="296.55" width="5.4" height="22.00" fill="#2e8b57" stroke="#1f7d4b" stroke-width=".5"/><rect x="665.34" y="299.2" width="5.9" height="1.6" fill="#e60000"/><rect x="673.34" y="284.75" width="5.4" height="10.80" fill="#2e8b57" stroke="#1f7d4b" stroke-width=".5"/><rect x="681.09" y="258.05" width="5.4" height="21.70" fill="#2e8b57" stroke="#1f7d4b" stroke-width=".5"/><rect x="688.59" y="258.0" width="5.9" height="5.8" fill="#e60000"/><rect x="696.59" y="252.75" width="5.4" height="14.80" fill="#2e8b57" stroke="#1f7d4b" stroke-width=".5"/><rect x="704.34" y="243.25" width="5.4" height="10.20" fill="#2e8b57" stroke="#1f7d4b" stroke-width=".5"/><rect x="711.84" y="247.0" width="5.9" height="14.7" fill="#e60000"/><rect x="719.59" y="260.0" width="5.9" height="24.7" fill="#e60000"/><rect x="727.34" y="283.0" width="5.9" height="12.8" fill="#e60000"/><rect x="735.34" y="291.45" width="5.4" height="0.60" fill="#2e8b57" stroke="#1f7d4b" stroke-width=".5"/><rect x="743.09" y="292.25" width="5.4" height="1.00" fill="#2e8b57" stroke="#1f7d4b" stroke-width=".5"/><rect x="750.59" y="295.0" width="5.9" height="6.7" fill="#e60000"/><rect x="758.35" y="301.7" width="5.9" height="23.8" fill="#e60000"/><rect x="766.35" y="323.05" width="5.4" height="6.20" fill="#2e8b57" stroke="#1f7d4b" stroke-width=".5"/><rect x="774.10" y="305.25" width="5.4" height="15.30" fill="#2e8b57" stroke="#1f7d4b" stroke-width=".5"/><rect x="781.85" y="284.05" width="5.4" height="20.20" fill="#2e8b57" stroke="#1f7d4b" stroke-width=".5"/><rect x="789.60" y="284.05" width="5.4" height="1.20" fill="#2e8b57" stroke="#1f7d4b" stroke-width=".5"/><rect x="797.10" y="284.7" width="5.9" height="9.1" fill="#e60000"/><rect x="805.10" y="290.55" width="5.4" height="4.50" fill="#2e8b57" stroke="#1f7d4b" stroke-width=".5"/><rect x="812.85" y="281.45" width="5.4" height="18.80" fill="#2e8b57" stroke="#1f7d4b" stroke-width=".5"/><rect x="820.35" y="283.8" width="5.9" height="18.7" fill="#e60000"/><rect x="828.35" y="299.95" width="5.4" height="1.10" fill="#2e8b57" stroke="#1f7d4b" stroke-width=".5"/><rect x="835.85" y="304.2" width="5.9" height="12.5" fill="#e60000"/><rect x="843.60" y="316.7" width="5.9" height="47.0" fill="#e60000"/><rect x="851.60" y="340.55" width="5.4" height="1.90" fill="#2e8b57" stroke="#1f7d4b" stroke-width=".5"/><rect x="859.10" y="339.7" width="5.9" height="16.6" fill="#e60000"/><rect x="867.10" y="341.95" width="5.4" height="15.30" fill="#2e8b57" stroke="#1f7d4b" stroke-width=".5"/><rect x="874.60" y="345.0" width="5.9" height="12.5" fill="#e60000"/><rect x="882.60" y="351.05" width="5.4" height="6.50" fill="#2e8b57" stroke="#1f7d4b" stroke-width=".5"/><rect x="890.35" y="341.45" width="5.4" height="12.10" fill="#2e8b57" stroke="#1f7d4b" stroke-width=".5"/><rect x="897.85" y="339.7" width="5.9" height="16.1" fill="#e60000"/><rect x="905.85" y="355.25" width="5.4" height="0.50" fill="#2e8b57" stroke="#1f7d4b" stroke-width=".5"/><rect x="913.61" y="341.95" width="5.4" height="13.30" fill="#2e8b57" stroke="#1f7d4b" stroke-width=".5"/><rect x="921.36" y="341.95" width="5.4" height="0.80" fill="#2e8b57" stroke="#1f7d4b" stroke-width=".5"/><rect x="929.11" y="317.25" width="5.4" height="8.30" fill="#2e8b57" stroke="#1f7d4b" stroke-width=".5"/><rect x="936.86" y="300.55" width="5.4" height="18.00" fill="#2e8b57" stroke="#1f7d4b" stroke-width=".5"/><rect x="944.36" y="301.2" width="5.9" height="5.1" fill="#e60000"/><rect x="952.11" y="308.0" width="5.9" height="9.8" fill="#e60000"/><rect x="959.86" y="316.2" width="5.9" height="7.5" fill="#e60000"/><rect x="967.61" y="322.2" width="5.9" height="4.5" fill="#e60000"/><rect x="975.36" y="326.7" width="5.9" height="29.6" fill="#e60000"/><rect x="983.36" y="345.75" width="5.4" height="10.20" fill="#2e8b57" stroke="#1f7d4b" stroke-width=".5"/><rect x="990.86" y="345.5" width="5.9" height="15.3" fill="#e60000"/><rect x="998.86" y="349.75" width="5.4" height="10.80" fill="#2e8b57" stroke="#1f7d4b" stroke-width=".5"/><rect x="1006.61" y="327.45" width="5.4" height="25.60" fill="#2e8b57" stroke="#1f7d4b" stroke-width=".5"/><rect x="1014.11" y="327.2" width="5.9" height="4.8" fill="#e60000"/><rect x="1022.11" y="325.25" width="5.4" height="6.50" fill="#2e8b57" stroke="#1f7d4b" stroke-width=".5"/><rect x="1029.61" y="325.0" width="5.9" height="7.0" fill="#e60000"/><rect x="1037.61" y="328.55" width="5.4" height="3.20" fill="#2e8b57" stroke="#1f7d4b" stroke-width=".5"/><rect x="1045.11" y="328.0" width="5.9" height="24.8" fill="#e60000"/><rect x="1053.11" y="343.25" width="5.4" height="9.30" fill="#2e8b57" stroke="#1f7d4b" stroke-width=".5"/><rect x="1060.62" y="342.8" width="5.9" height="23.9" fill="#e60000"/><rect x="1068.37" y="366.3" width="5.9" height="14.2" fill="#e60000"/><rect x="1076.37" y="372.75" width="5.4" height="7.50" fill="#2e8b57" stroke="#1f7d4b" stroke-width=".5"/><rect x="1084.12" y="368.05" width="5.4" height="4.40" fill="#2e8b57" stroke="#1f7d4b" stroke-width=".5"/><rect x="1091.87" y="367.25" width="5.4" height="1.20" fill="#2e8b57" stroke="#1f7d4b" stroke-width=".5"/><rect x="1099.62" y="338.25" width="5.4" height="29.00" fill="#2e8b57" stroke="#1f7d4b" stroke-width=".5"/><rect x="1107.37" y="331.45" width="5.4" height="7.00" fill="#2e8b57" stroke="#1f7d4b" stroke-width=".5"/><rect x="1115.12" y="320.25" width="5.4" height="10.80" fill="#2e8b57" stroke="#1f7d4b" stroke-width=".5"/><rect x="1122.62" y="322.2" width="5.9" height="1.8" fill="#e60000"/><rect x="1130.62" y="311.95" width="5.4" height="11.60" fill="#2e8b57" stroke="#1f7d4b" stroke-width=".5"/><rect x="1138.37" y="291.45" width="5.4" height="20.00" fill="#2e8b57" stroke="#1f7d4b" stroke-width=".5"/><rect x="1146.12" y="284.45" width="5.4" height="6.10" fill="#2e8b57" stroke="#1f7d4b" stroke-width=".5"/><rect x="1153.87" y="269.95" width="5.4" height="14.00" fill="#2e8b57" stroke="#1f7d4b" stroke-width=".5"/><rect x="1161.37" y="270.3" width="5.9" height="7.2" fill="#e60000"/><rect x="1169.37" y="269.95" width="5.4" height="7.30" fill="#2e8b57" stroke="#1f7d4b" stroke-width=".5"/><rect x="1177.12" y="246.95" width="5.4" height="22.50" fill="#2e8b57" stroke="#1f7d4b" stroke-width=".5"/><rect x="1184.62" y="246.7" width="5.9" height="9.1" fill="#e60000"/><rect x="1192.37" y="256.2" width="5.9" height="6.3" fill="#e60000"/><rect x="1200.12" y="265.0" width="5.9" height="4.7" fill="#e60000"/><rect x="1207.87" y="269.7" width="5.9" height="3.1" fill="#e60000"/><rect x="1215.62" y="272.8" width="5.9" height="16.7" fill="#e60000"/><rect x="1223.63" y="286.45" width="5.4" height="2.80" fill="#2e8b57" stroke="#1f7d4b" stroke-width=".5"/><rect x="1231.13" y="285.5" width="5.9" height="1.2" fill="#e60000"/><rect x="1239.13" y="260.75" width="5.4" height="25.20" fill="#2e8b57" stroke="#1f7d4b" stroke-width=".5"/><rect x="1246.88" y="235.55" width="5.4" height="24.70" fill="#2e8b57" stroke="#1f7d4b" stroke-width=".5"/><rect x="1254.63" y="232.45" width="5.4" height="2.80" fill="#2e8b57" stroke="#1f7d4b" stroke-width=".5"/><rect x="1262.13" y="230.7" width="5.9" height="1.1" fill="#e60000"/><rect x="1270.13" y="227.45" width="5.4" height="7.30" fill="#2e8b57" stroke="#1f7d4b" stroke-width=".5"/><rect x="1277.63" y="234.2" width="5.9" height="5.5" fill="#e60000"/><rect x="1285.63" y="238.55" width="5.4" height="0.70" fill="#2e8b57" stroke="#1f7d4b" stroke-width=".5"/><rect x="1293.13" y="238.7" width="5.9" height="12.1" fill="#e60000"/><rect x="1301.13" y="249.55" width="5.4" height="0.70" fill="#2e8b57" stroke="#1f7d4b" stroke-width=".5"/><rect x="1308.88" y="237.75" width="5.4" height="12.80" fill="#2e8b57" stroke="#1f7d4b" stroke-width=".5"/><rect x="1316.63" y="225.75" width="5.4" height="21.50" fill="#2e8b57" stroke="#1f7d4b" stroke-width=".5"/><rect x="1324.38" y="212.75" width="5.4" height="13.30" fill="#2e8b57" stroke="#1f7d4b" stroke-width=".5"/><rect x="1331.88" y="213.3" width="5.9" height="10.0" fill="#e60000"/><rect x="1339.63" y="223.0" width="5.9" height="13.3" fill="#e60000"/><rect x="1347.38" y="236.3" width="5.9" height="4.5" fill="#e60000"/><rect x="1355.38" y="228.05" width="5.4" height="17.20" fill="#2e8b57" stroke="#1f7d4b" stroke-width=".5"/><rect x="1362.88" y="227.8" width="5.9" height="16.9" fill="#e60000"/><rect x="1370.88" y="243.55" width="5.4" height="0.90" fill="#2e8b57" stroke="#1f7d4b" stroke-width=".5"/><rect x="1378.64" y="237.45" width="5.4" height="6.00" fill="#2e8b57" stroke="#1f7d4b" stroke-width=".5"/><rect x="1386.14" y="236.1" width="5.9" height="7.5" fill="#e60000"/><rect x="1394.14" y="226.35" width="5.4" height="24.00" fill="#2e8b57" stroke="#1f7d4b" stroke-width=".5"/><rect x="1401.89" y="215.55" width="5.4" height="10.70" fill="#2e8b57" stroke="#1f7d4b" stroke-width=".5"/><rect x="1409.64" y="200.45" width="5.4" height="14.60" fill="#2e8b57" stroke="#1f7d4b" stroke-width=".5"/><rect x="1417.39" y="157.35" width="5.4" height="42.60" fill="#2e8b57" stroke="#1f7d4b" stroke-width=".5"/><rect x="1425.14" y="124.95" width="5.4" height="31.90" fill="#2e8b57" stroke="#1f7d4b" stroke-width=".5"/><rect x="1432.64" y="106.9" width="5.9" height="4.5" fill="#e60000"/><rect x="1440.64" y="61.35" width="5.4" height="49.50" fill="#2e8b57" stroke="#1f7d4b" stroke-width=".5"/><rect x="1448.14" y="61.1" width="5.9" height="10.7" fill="#e60000"/></g></g>
<line x1="0" y1="71.9" x2="1492.0" y2="71.9" stroke="#e60000" stroke-opacity=".55" stroke-width="1" stroke-dasharray="1 1.04"/>
<polyline fill="none" stroke="#7e57c2" stroke-width="1.4" stroke-linejoin="round" stroke-linecap="round"  points="1.7,585.8 9.5,570.5 17.2,577.8 25.0,581.7 32.7,582.0 40.5,573.3 48.2,579.7 56.0,577.5 63.8,582.5 71.5,568.7 79.3,570.8 87.0,578.8 94.8,582.5 102.5,579.5 110.3,581.7 118.0,570.0 125.8,577.2 133.5,572.2 141.3,569.5 149.0,573.8 156.8,568.7 164.5,567.7 172.3,573.3 180.0,567.0 187.8,578.3 195.5,571.3 203.3,582.5 211.0,576.2 218.8,582.2 226.5,588.5 234.3,586.3 242.0,580.0 249.8,574.7 257.5,568.3 265.3,572.5 273.0,563.3 280.8,563.0 288.5,562.7 296.3,566.7 304.0,571.3 311.8,588.3 319.5,579.2 327.3,578.0 335.0,567.2 342.8,570.0 350.5,578.3 358.3,586.3 366.0,583.0 373.8,592.2 381.5,587.0 389.3,582.8 397.0,575.3 404.8,565.8 412.5,569.5 420.3,576.7 428.0,587.5 435.8,590.3 443.5,605.3 451.3,606.5 459.0,594.2 466.8,595.3 474.5,593.7 482.3,585.3 490.0,580.5 497.8,580.8 505.5,583.3 513.3,578.7 521.0,574.3 528.8,589.2 536.5,585.3 544.3,590.3 552.0,599.7 559.8,603.7 567.5,606.8 575.3,585.8 583.0,587.7 590.8,584.5 598.5,581.2 606.3,573.8 614.0,571.7 621.8,568.7 629.5,579.5 637.3,573.5 645.0,581.3 652.8,571.3 660.5,563.3 668.3,565.8 676.0,559.5 683.8,551.0 691.5,554.5 699.3,551.0 707.0,548.3 714.8,560.3 722.5,573.3 730.3,579.2 738.0,577.5 745.8,577.7 753.5,582.8 761.3,595.0 769.0,593.2 776.8,583.3 784.5,573.3 792.3,573.3 800.0,579.0 807.8,577.2 815.5,572.7 823.3,585.3 831.0,583.7 838.8,593.3 846.6,612.0 854.3,599.5 862.1,604.7 869.8,597.2 877.6,602.8 885.3,599.2 893.1,594.5 900.8,600.0 908.6,600.2 916.3,592.0 924.1,591.7 931.8,578.8 939.6,571.0 947.3,574.5 955.1,580.8 962.8,584.0 970.6,586.0 978.3,600.5 986.1,594.5 993.8,600.8 1001.6,594.5 1009.3,582.2 1017.1,584.5 1024.8,581.2 1032.6,585.0 1040.3,582.5 1048.1,596.0 1055.8,590.0 1063.6,600.8 1071.3,606.3 1079.1,601.7 1086.8,598.8 1094.6,598.2 1102.3,580.8 1110.1,577.2 1117.8,571.7 1125.6,574.2 1133.3,567.5 1141.1,559.0 1148.8,556.3 1156.6,551.0 1164.3,557.0 1172.1,553.7 1179.8,545.7 1187.6,553.0 1195.3,558.3 1203.1,563.0 1210.8,565.8 1218.6,577.0 1226.3,575.0 1234.1,575.0 1241.8,561.3 1249.6,551.3 1257.3,550.5 1265.1,550.3 1272.8,548.3 1280.6,559.0 1288.3,558.7 1296.1,568.3 1303.8,568.0 1311.6,561.3 1319.3,555.3 1327.1,549.5 1334.8,558.8 1342.6,569.3 1350.3,573.0 1358.1,565.5 1365.8,578.3 1373.6,577.5 1381.3,573.3 1389.1,578.3 1396.8,567.8 1404.6,561.7 1412.3,554.7 1420.1,540.3 1427.8,532.5 1435.6,529.7 1443.3,521.7 1451.1,528.8"/>
<polyline fill="none" stroke="#ff5252" stroke-width="1.3" stroke-linejoin="round" stroke-linecap="round"  points="2.0,697.0 17.5,695.2 32.5,696.5 50.0,695.8 63.8,695.8 72.5,693.8 78.8,691.2 86.2,691.8 97.5,694.0 110.0,696.0 122.5,694.5 132.5,693.2 142.5,690.8 155.0,688.2 165.0,686.0 172.5,683.8 178.8,683.5 187.5,685.0 200.0,685.2 211.2,685.5 220.0,687.8 226.2,689.2 233.8,689.5 242.5,692.5 250.0,695.0 262.5,695.5 272.5,694.8 281.2,693.8 292.5,693.8 302.5,694.0 315.0,696.8 327.5,699.0 340.0,700.5 352.5,702.8 360.0,703.5 367.5,703.0 380.0,700.5 390.0,699.5 402.5,701.5 411.2,702.2 420.0,704.2 435.0,704.0 450.0,698.0 462.5,695.8 475.0,693.5 482.5,694.0 495.0,697.5 505.0,699.5 512.5,699.8 521.2,701.5 532.5,701.2 543.8,700.8 552.5,698.5 567.5,693.2 577.5,695.5 590.0,698.0 600.0,700.5 610.0,702.0 622.5,702.5 635.0,704.8 647.5,706.5 660.0,706.8 675.0,704.2 692.5,697.8 705.0,693.2 715.0,689.0 722.5,688.5 730.0,689.5 737.5,691.2 752.5,692.5 765.0,696.2 776.2,698.8 792.5,697.0 807.5,697.5 822.5,697.2 831.2,699.5 842.5,700.2 853.8,701.0 865.0,698.5 876.2,695.8 885.0,692.8 895.0,691.0 905.0,689.0 915.0,687.8 923.8,687.8 932.5,690.0 940.0,692.0 947.5,692.8 960.0,696.2 971.2,699.2 977.5,699.5 990.0,698.2 1001.2,697.8 1012.5,701.5 1023.8,704.2 1032.5,704.0 1041.2,705.2 1050.0,707.0 1057.5,707.5 1067.5,707.0 1077.5,705.0 1086.2,703.8 1093.8,703.5 1102.5,704.8 1110.0,705.0 1122.5,703.8 1133.8,702.2 1145.0,698.0 1162.5,689.5 1172.5,685.5 1182.5,681.0 1195.0,675.8 1203.8,672.8 1210.0,671.8 1220.0,673.2 1233.8,676.0 1242.5,674.8 1252.5,671.0 1265.0,666.2 1273.8,663.0 1288.8,660.8 1296.2,662.8 1303.8,664.5 1312.5,664.2 1322.5,662.8 1330.0,660.5 1335.0,659.0 1342.5,660.0 1350.0,662.2 1362.5,664.8 1375.0,667.0 1387.5,668.5 1396.2,669.0 1405.0,667.5 1412.5,665.2 1422.5,660.0 1435.0,652.5 1445.0,644.5 1451.2,639.8"/>
<rect x="0" y="509" width="1536" height="1" fill="#e4e6ec"/>
<rect x="0" y="631" width="1536" height="1" fill="#e4e6ec"/>
<rect x="1492.5" y="1.5" width="42.1" height="507.5" fill="#fff"/>
<rect x="1492.5" y="510" width="42.1" height="121" fill="#fff"/>
<rect x="1492.5" y="632" width="42.1" height="100" fill="#fff"/>
<g class="t" opacity=".999">
<text class="ax" x="1497.8" y="10.1" textLength="31.5" lengthAdjust="spacingAndGlyphs" stroke="#131722">0.71000</text>
<text class="ax" x="1497.8" y="38.5" textLength="31.5" lengthAdjust="spacingAndGlyphs" stroke="#131722">0.70500</text>
<text class="ax" x="1497.8" y="66.9" textLength="31.5" lengthAdjust="spacingAndGlyphs" stroke="#131722">0.70000</text>
<text class="ax" x="1497.8" y="95.3" textLength="31.5" lengthAdjust="spacingAndGlyphs" stroke="#131722">0.69500</text>
<text class="ax" x="1497.8" y="123.8" textLength="31.5" lengthAdjust="spacingAndGlyphs" stroke="#131722">0.69000</text>
<text class="ax" x="1497.8" y="152.2" textLength="31.5" lengthAdjust="spacingAndGlyphs" stroke="#131722">0.68500</text>
<text class="ax" x="1497.8" y="180.6" textLength="31.5" lengthAdjust="spacingAndGlyphs" stroke="#131722">0.68000</text>
<text class="ax" x="1497.8" y="209.0" textLength="31.5" lengthAdjust="spacingAndGlyphs" stroke="#131722">0.67500</text>
<text class="ax" x="1497.8" y="237.4" textLength="31.5" lengthAdjust="spacingAndGlyphs" stroke="#131722">0.67000</text>
<text class="ax" x="1497.8" y="265.8" textLength="31.5" lengthAdjust="spacingAndGlyphs" stroke="#131722">0.66500</text>
<text class="ax" x="1497.8" y="294.3" textLength="31.5" lengthAdjust="spacingAndGlyphs" stroke="#131722">0.66000</text>
<text class="ax" x="1497.8" y="322.7" textLength="31.5" lengthAdjust="spacingAndGlyphs" stroke="#131722">0.65500</text>
<text class="ax" x="1497.8" y="351.1" textLength="31.5" lengthAdjust="spacingAndGlyphs" stroke="#131722">0.65000</text>
<text class="ax" x="1497.8" y="379.5" textLength="31.5" lengthAdjust="spacingAndGlyphs" stroke="#131722">0.64500</text>
<text class="ax" x="1497.8" y="407.9" textLength="31.5" lengthAdjust="spacingAndGlyphs" stroke="#131722">0.64000</text>
<text class="ax" x="1497.8" y="436.3" textLength="31.5" lengthAdjust="spacingAndGlyphs" stroke="#131722">0.63500</text>
<text class="ax" x="1497.8" y="464.7" textLength="31.5" lengthAdjust="spacingAndGlyphs" stroke="#131722">0.63000</text>
<text class="ax" x="1497.8" y="493.2" textLength="31.5" lengthAdjust="spacingAndGlyphs" stroke="#131722">0.62500</text>
<text class="ax" x="1497.8" y="568.9" textLength="21.6" lengthAdjust="spacingAndGlyphs" stroke="#131722">60.00</text>
<text class="ax" x="1497.8" y="605.4" textLength="21.6" lengthAdjust="spacingAndGlyphs" stroke="#131722">40.00</text>
<clipPath id="cadx"><rect x="1492.0" y="632" width="44" height="83.5"/></clipPath>
<g clip-path="url(#cadx)">
<text class="ax" x="1497.8" y="651.9" textLength="21.6" lengthAdjust="spacingAndGlyphs" stroke="#131722">40.00</text>
<text class="ax" x="1497.8" y="673.0" textLength="21.6" lengthAdjust="spacingAndGlyphs" stroke="#131722">30.00</text>
<text class="ax" x="1497.8" y="694.1" textLength="21.6" lengthAdjust="spacingAndGlyphs" stroke="#131722">20.00</text>
<text class="ax" x="1497.8" y="715.2" textLength="21.6" lengthAdjust="spacingAndGlyphs" stroke="#131722">10.00</text>
</g>
<path d="M1492.0 66.35h39.2a1.6 1.6 0 0 1 1.6 1.6v7.90a1.6 1.6 0 0 1 -1.6 1.6h-39.2z" fill="#e60000"/>
<text class="ax" x="1497.8" y="75.2" textLength="31.5" lengthAdjust="spacingAndGlyphs" style="fill:#fff;stroke:none">0.69880</text>
<path d="M1492.0 254.50h39.0a1.6 1.6 0 0 1 1.6 1.6v7.60a1.6 1.6 0 0 1 -1.6 1.6h-39.0z" fill="#2962ff"/>
<text class="ax" x="1497.8" y="263.1" textLength="31.5" lengthAdjust="spacingAndGlyphs" style="fill:#fff;stroke:none">0.66559</text>
<path d="M1492.0 279.10h39.0a1.6 1.6 0 0 1 1.6 1.6v7.60a1.6 1.6 0 0 1 -1.6 1.6h-39.0z" fill="#f23645"/>
<text class="ax" x="1497.8" y="287.8" textLength="31.5" lengthAdjust="spacingAndGlyphs" style="fill:#fff;stroke:none">0.66122</text>
<path d="M1492.0 313.30h39.0a1.6 1.6 0 0 1 1.6 1.6v7.60a1.6 1.6 0 0 1 -1.6 1.6h-39.0z" fill="#ff9800"/>
<text class="ax" x="1497.8" y="321.9" textLength="31.5" lengthAdjust="spacingAndGlyphs" style="fill:#131722;stroke:none">0.65528</text>
<path d="M1492.0 523.75h29.4a1.6 1.6 0 0 1 1.6 1.6v8.00a1.6 1.6 0 0 1 -1.6 1.6h-29.4z" fill="#7e57c2"/>
<text class="ax" x="1497.8" y="532.6" textLength="21.6" lengthAdjust="spacingAndGlyphs" style="fill:#fff;stroke:none">80.37</text>
<path d="M1492.0 635.10h29.4a1.6 1.6 0 0 1 1.6 1.6v7.40a1.6 1.6 0 0 1 -1.6 1.6h-29.4z" fill="#ff5252"/>
<text class="ax" x="1497.8" y="643.6" textLength="21.6" lengthAdjust="spacingAndGlyphs" style="fill:#fff;stroke:none">44.49</text>
<rect x="1.55" y="715.6" width="1533.0" height="16.6" fill="#fff"/>
<text class="ax" x="1.6" y="727.4" text-anchor="middle" stroke="#131722">12</text>
<text class="ax" x="55.9" y="727.4" text-anchor="middle" stroke="#131722">21</text>
<text class="ax" x="111.1" y="727.4" textLength="13.5" lengthAdjust="spacingAndGlyphs" stroke="#131722">Jun</text>
<text class="ax" x="172.1" y="727.4" text-anchor="middle" stroke="#131722">11</text>
<text class="ax" x="226.4" y="727.4" text-anchor="middle" stroke="#131722">20</text>
<text class="ax" x="275.3" y="727.4" textLength="10.6" lengthAdjust="spacingAndGlyphs" stroke="#131722">Jul</text>
<text class="ax" x="334.9" y="727.4" text-anchor="middle" stroke="#131722">10</text>
<text class="ax" x="389.1" y="727.4" text-anchor="middle" stroke="#131722">21</text>
<text class="ax" x="451.5" y="727.4" textLength="14.8" lengthAdjust="spacingAndGlyphs" stroke="#131722">Aug</text>
<text class="ax" x="513.1" y="727.4" text-anchor="middle" stroke="#131722">12</text>
<text class="ax" x="567.4" y="727.4" text-anchor="middle" stroke="#131722">21</text>
<text class="ax" x="614.6" y="727.4" textLength="14.0" lengthAdjust="spacingAndGlyphs" stroke="#131722">Sep</text>
<text class="ax" x="675.9" y="727.4" text-anchor="middle" stroke="#131722">10</text>
<text class="ax" x="730.1" y="727.4" text-anchor="middle" stroke="#131722">19</text>
<text class="ax" x="785.4" y="727.4" textLength="13.5" lengthAdjust="spacingAndGlyphs" stroke="#131722">Oct</text>
<text class="ax" x="846.4" y="727.4" text-anchor="middle" stroke="#131722">10</text>
<text class="ax" x="900.7" y="727.4" text-anchor="middle" stroke="#131722">21</text>
<text class="ax" x="963.2" y="727.4" textLength="14.4" lengthAdjust="spacingAndGlyphs" stroke="#131722">Nov</text>
<text class="ax" x="1024.7" y="727.4" text-anchor="middle" stroke="#131722">12</text>
<text class="ax" x="1118.1" y="727.4" textLength="14.7" lengthAdjust="spacingAndGlyphs" stroke="#131722">Dec</text>
<text class="ax" x="1179.7" y="727.4" text-anchor="middle" stroke="#131722">10</text>
<text class="ax" x="1233.9" y="727.4" text-anchor="middle" stroke="#131722">19</text>
<text class="ax" x="1293.1" y="727.4" textLength="21.2" lengthAdjust="spacingAndGlyphs" stroke="#131722" style="font-weight:bold">2026</text>
<text class="ax" x="1357.9" y="727.4" text-anchor="middle" stroke="#131722">12</text>
<text class="ax" x="1412.2" y="727.4" text-anchor="middle" stroke="#131722">21</text>
<text class="ax" x="1467.5" y="727.4" textLength="13.4" lengthAdjust="spacingAndGlyphs" stroke="#131722">Feb</text>
<rect x="0" y="715" width="1.55" height="19" fill="#ebeef4"/>
<text class="lg" x="6.0" y="13.9" textLength="68.2" lengthAdjust="spacingAndGlyphs" stroke="#131722">AUD/USD Spot, 1D</text>
<text class="lg" x="79.2" y="13.9" textLength="5.4" lengthAdjust="spacingAndGlyphs" stroke="#131722">O</text>
<text class="lg" x="85.4" y="13.9" textLength="30.2" lengthAdjust="spacingAndGlyphs" style="fill:#e81820;stroke:#e81820">0.70060</text>
<text class="lg" x="120.6" y="13.9" textLength="4.9" lengthAdjust="spacingAndGlyphs" stroke="#131722">H</text>
<text class="lg" x="126.6" y="13.9" textLength="29.9" lengthAdjust="spacingAndGlyphs" style="fill:#e81820;stroke:#e81820">0.70226</text>
<text class="lg" x="161.5" y="13.9" textLength="3.6" lengthAdjust="spacingAndGlyphs" stroke="#131722">L</text>
<text class="lg" x="165.9" y="13.9" textLength="28.6" lengthAdjust="spacingAndGlyphs" style="fill:#e81820;stroke:#e81820">0.69771</text>
<text class="lg" x="200.0" y="13.9" textLength="5.0" lengthAdjust="spacingAndGlyphs" stroke="#131722">C</text>
<text class="lg" x="205.7" y="13.9" textLength="30.5" lengthAdjust="spacingAndGlyphs" style="fill:#e81820;stroke:#e81820">0.69880</text>
<text class="lg" x="241.7" y="13.9" textLength="69.8" lengthAdjust="spacingAndGlyphs" style="fill:#e81820;stroke:#e81820">−0.00181 (−0.26%)</text>
<text class="lg" x="6.0" y="25.0" textLength="66.6" lengthAdjust="spacingAndGlyphs" stroke="#131722">MA (100, close, 0)</text>
<text class="lg" x="77.9" y="25.0" textLength="29.2" lengthAdjust="spacingAndGlyphs" style="fill:#f23645;stroke:#f23645">0.66122</text>
<text class="lg" x="6.0" y="36.1" textLength="62.8" lengthAdjust="spacingAndGlyphs" stroke="#131722">MA (55, close, 0)</text>
<text class="lg" x="74.0" y="36.1" textLength="31.0" lengthAdjust="spacingAndGlyphs" style="fill:#2962ff;stroke:#2962ff">0.66559</text>
<text class="lg" x="6.0" y="47.2" textLength="67.8" lengthAdjust="spacingAndGlyphs" stroke="#131722">MA (200, close, 0)</text>
<text class="lg" x="79.0" y="47.2" textLength="30.6" lengthAdjust="spacingAndGlyphs" style="fill:#ff9800;stroke:#ff9800">0.65528</text>
<text class="lg" x="6.0" y="523.0" textLength="28.5" lengthAdjust="spacingAndGlyphs" stroke="#131722">RSI (14)</text>
<text class="lg" x="39.7" y="523.0" textLength="20.8" lengthAdjust="spacingAndGlyphs" style="fill:#7e57c2;stroke:#7e57c2">80.37</text>
<text class="lg" x="6.0" y="644.9" textLength="45.5" lengthAdjust="spacingAndGlyphs" stroke="#131722">ADX (14, 14)</text>
<text class="lg" x="57.0" y="644.9" textLength="21.2" lengthAdjust="spacingAndGlyphs" style="fill:#ff5252;stroke:#ff5252">44.49</text>
</g>
</svg></body></html>
